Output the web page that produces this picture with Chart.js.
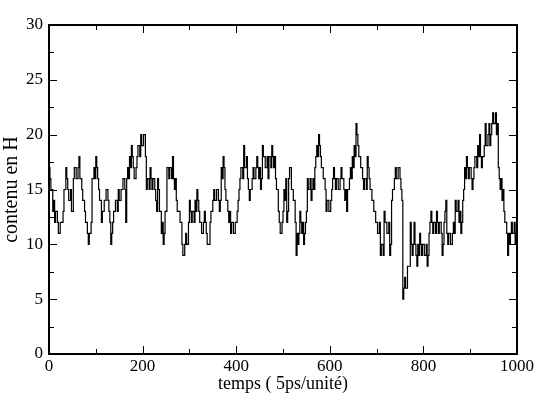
<!DOCTYPE html>
<html>
<head>
<meta charset="utf-8">
<script src="https://cdn.jsdelivr.net/npm/chart.js@4.4.0/dist/chart.umd.min.js"></script>
<style>
  html, body { margin: 0; padding: 0; background: #fff; }
  #wrap { width: 543px; height: 412px; }
</style>
</head>
<body>
<div id="wrap"><canvas id="c" width="543" height="412"></canvas></div>
<script>
// Sampling interval of the trajectory (time units)
const timeStep = 4;
// H content at t = 0, 4, 8, ... 1000
const hContent = [
  17,15,13,12,13,11,12,12,15,17,
  15,14,13,16,17,16,18,16,14,13,
  12,10,11,16,17,18,16,14,12,13,
  14,15,13,10,12,13,14,15,14,15,
  16,12,17,18,19,17,16,18,19,20,
  19,20,15,16,17,15,16,14,16,13,
  11,10,13,17,
  16,17,18,15,14,13,12,10,9,11,
  10,14,12,13,14,15,13,12,11,13,
  11,10,12,13,15,14,15,13,17,18,
  15,14,12,11,12,11,12,14,16,17,
  19,17,16,14,15,17,16,18,16,15,
  19,18,17,16,18,19,17,16,15,12,
  11,13,
  14,12,16,17,15,14,9,10,13,11,
  10,12,16,15,14,16,17,19,20,18,
  17,16,13,14,13,15,17,15,16,15,
  17,16,14,13,15,17,18,19,21,19,
  18,17,15,16,18,16,15,14,13,12,
  11,9,10,13,12,11,9,14,15,17,
  16,17,15,
  5,7,6,8,12,9,12,9,10,11,
  9,10,9,8,11,13,11,12,13,11,
  12,9,12,14,10,11,10,12,14,13,
  12,11,14,17,18,16,17,15,17,18,
  19,20,17,18,21,19,21,20,22,21,
  20,17,15,14,13,12,9,10,12,11,
  10,14
];
// H content at the half steps t = 2, 6, 10, ... 998
// (the other edge of the dense, rapidly toggling bands)
const hContentHalf = [
  16,15,14,13,12,11,12,13,15,16,
  14,15,13,17,16,17,16,15,14,12,
  11,11,12,16,16,17,15,14,13,14,
  15,14,12,11,13,14,13,14,15,16,
  15,16,16,17,18,16,17,19,18,19,
  20,18,16,15,16,16,15,13,15,13,
  12,11,13,17,
  17,16,16,16,13,13,12,9,10,10,
  12,13,13,12,13,14,12,11,12,12,
  10,10,13,14,14,15,14,14,16,17,
  14,13,13,12,11,12,13,15,17,16,
  17,18,15,15,16,16,17,17,17,16,
  18,17,18,18,17,18,18,15,13,11,
  12,15,
  16,13,17,15,14,12,11,11,12,12,
  11,13,15,16,15,15,18,18,19,17,
  16,15,14,13,14,16,16,16,15,16,
  16,15,15,15,16,16,17,18,20,18,
  17,16,16,15,17,15,14,13,12,11,
  12,10,9,12,11,12,10,15,16,16,
  17,16,14,
  6,6,8,8,10,10,10,8,9,10,
  10,9,10,9,12,12,12,11,12,12,
  11,10,13,11,11,10,11,11,13,14,
  13,12,15,16,17,17,16,16,18,17,
  18,18,18,19,19,20,19,21,21,22,
  21,16,16,15,12,11,11,11,11,12,11
];
const xTickValues = [0, 200, 400, 600, 800, 1000];
const yTickValues = [0, 5, 10, 15, 20, 25, 30];
const xTitle = 'temps ( 5ps/unité)';
const yTitle = 'contenu en H';

const points = [];
hContent.forEach((v, i) => {
  points.push({ x: i * timeStep, y: v });
  if (i < hContentHalf.length) points.push({ x: i * timeStep + timeStep / 2, y: hContentHalf[i] });
});

const FONT = 'Liberation Serif, "Times New Roman", serif';

const framePlugin = {
  id: 'frame',
  afterDatasetsDraw(chart) {
    const { ctx, chartArea: a, scales } = chart;
    ctx.save();
    ctx.strokeStyle = '#000';
    ctx.lineWidth = 1;
    const xs = scales.x, ys = scales.y;
    for (let v = xs.min; v <= xs.max; v += 100) {
      const px = Math.round(xs.getPixelForValue(v)) + 0.5;
      const len = (v % 200 === 0) ? 8 : 5;
      ctx.beginPath();
      ctx.moveTo(px, a.bottom); ctx.lineTo(px, a.bottom - len);
      ctx.moveTo(px, a.top); ctx.lineTo(px, a.top + len);
      ctx.stroke();
    }
    for (let v = ys.min; v <= ys.max; v += 2.5) {
      const py = Math.round(ys.getPixelForValue(v)) + 0.5;
      const len = (v % 5 === 0) ? 8 : 5;
      ctx.beginPath();
      ctx.moveTo(a.left, py); ctx.lineTo(a.left + len, py);
      ctx.moveTo(a.right, py); ctx.lineTo(a.right - len, py);
      ctx.stroke();
    }
    ctx.lineWidth = 2;
    ctx.strokeRect(a.left, a.top, a.right - a.left, a.bottom - a.top);
    ctx.restore();
  }
};

new Chart(document.getElementById('c'), {
  type: 'line',
  data: {
    datasets: [{
      data: points,
      borderColor: '#000',
      borderWidth: 1.2,
      pointRadius: 0,
      stepped: 'before',
      fill: false,
      tension: 0
    }]
  },
  options: {
    responsive: false,
    animation: false,
    devicePixelRatio: 1,
    layout: { padding: { top: 25, right: 26, bottom: 0, left: 0 } },
    plugins: { legend: { display: false }, tooltip: { enabled: false } },
    scales: {
      x: {
        type: 'linear',
        min: 0, max: 1000,
        afterBuildTicks(s) { s.ticks = xTickValues.map(v => ({ value: v })); },
        afterFit(s) { s.height = 58; },
        grid: { display: false, drawTicks: false },
        border: { display: false },
        ticks: { color: '#000', padding: 2, maxRotation: 0, autoSkip: false, font: { family: FONT, size: 17 },
                 callback: v => String(v) },
        title: { display: true, text: xTitle, color: '#000', font: { family: FONT, size: 18 }, padding: { top: 0, bottom: 17 } }
      },
      y: {
        type: 'linear',
        min: 0, max: 30,
        afterBuildTicks(s) { s.ticks = yTickValues.map(v => ({ value: v })); },
        afterFit(s) { s.width = 49; },
        grid: { display: false, drawTicks: false },
        border: { display: false },
        ticks: { color: '#000', padding: 6, autoSkip: false, font: { family: FONT, size: 17 },
                 callback: v => String(v) },
        title: { display: true, text: yTitle, color: '#000', font: { family: FONT, size: 20 }, padding: { top: 0, bottom: 0 } }
      }
    }
  },
  plugins: [framePlugin]
});
</script>
</body>
</html>
